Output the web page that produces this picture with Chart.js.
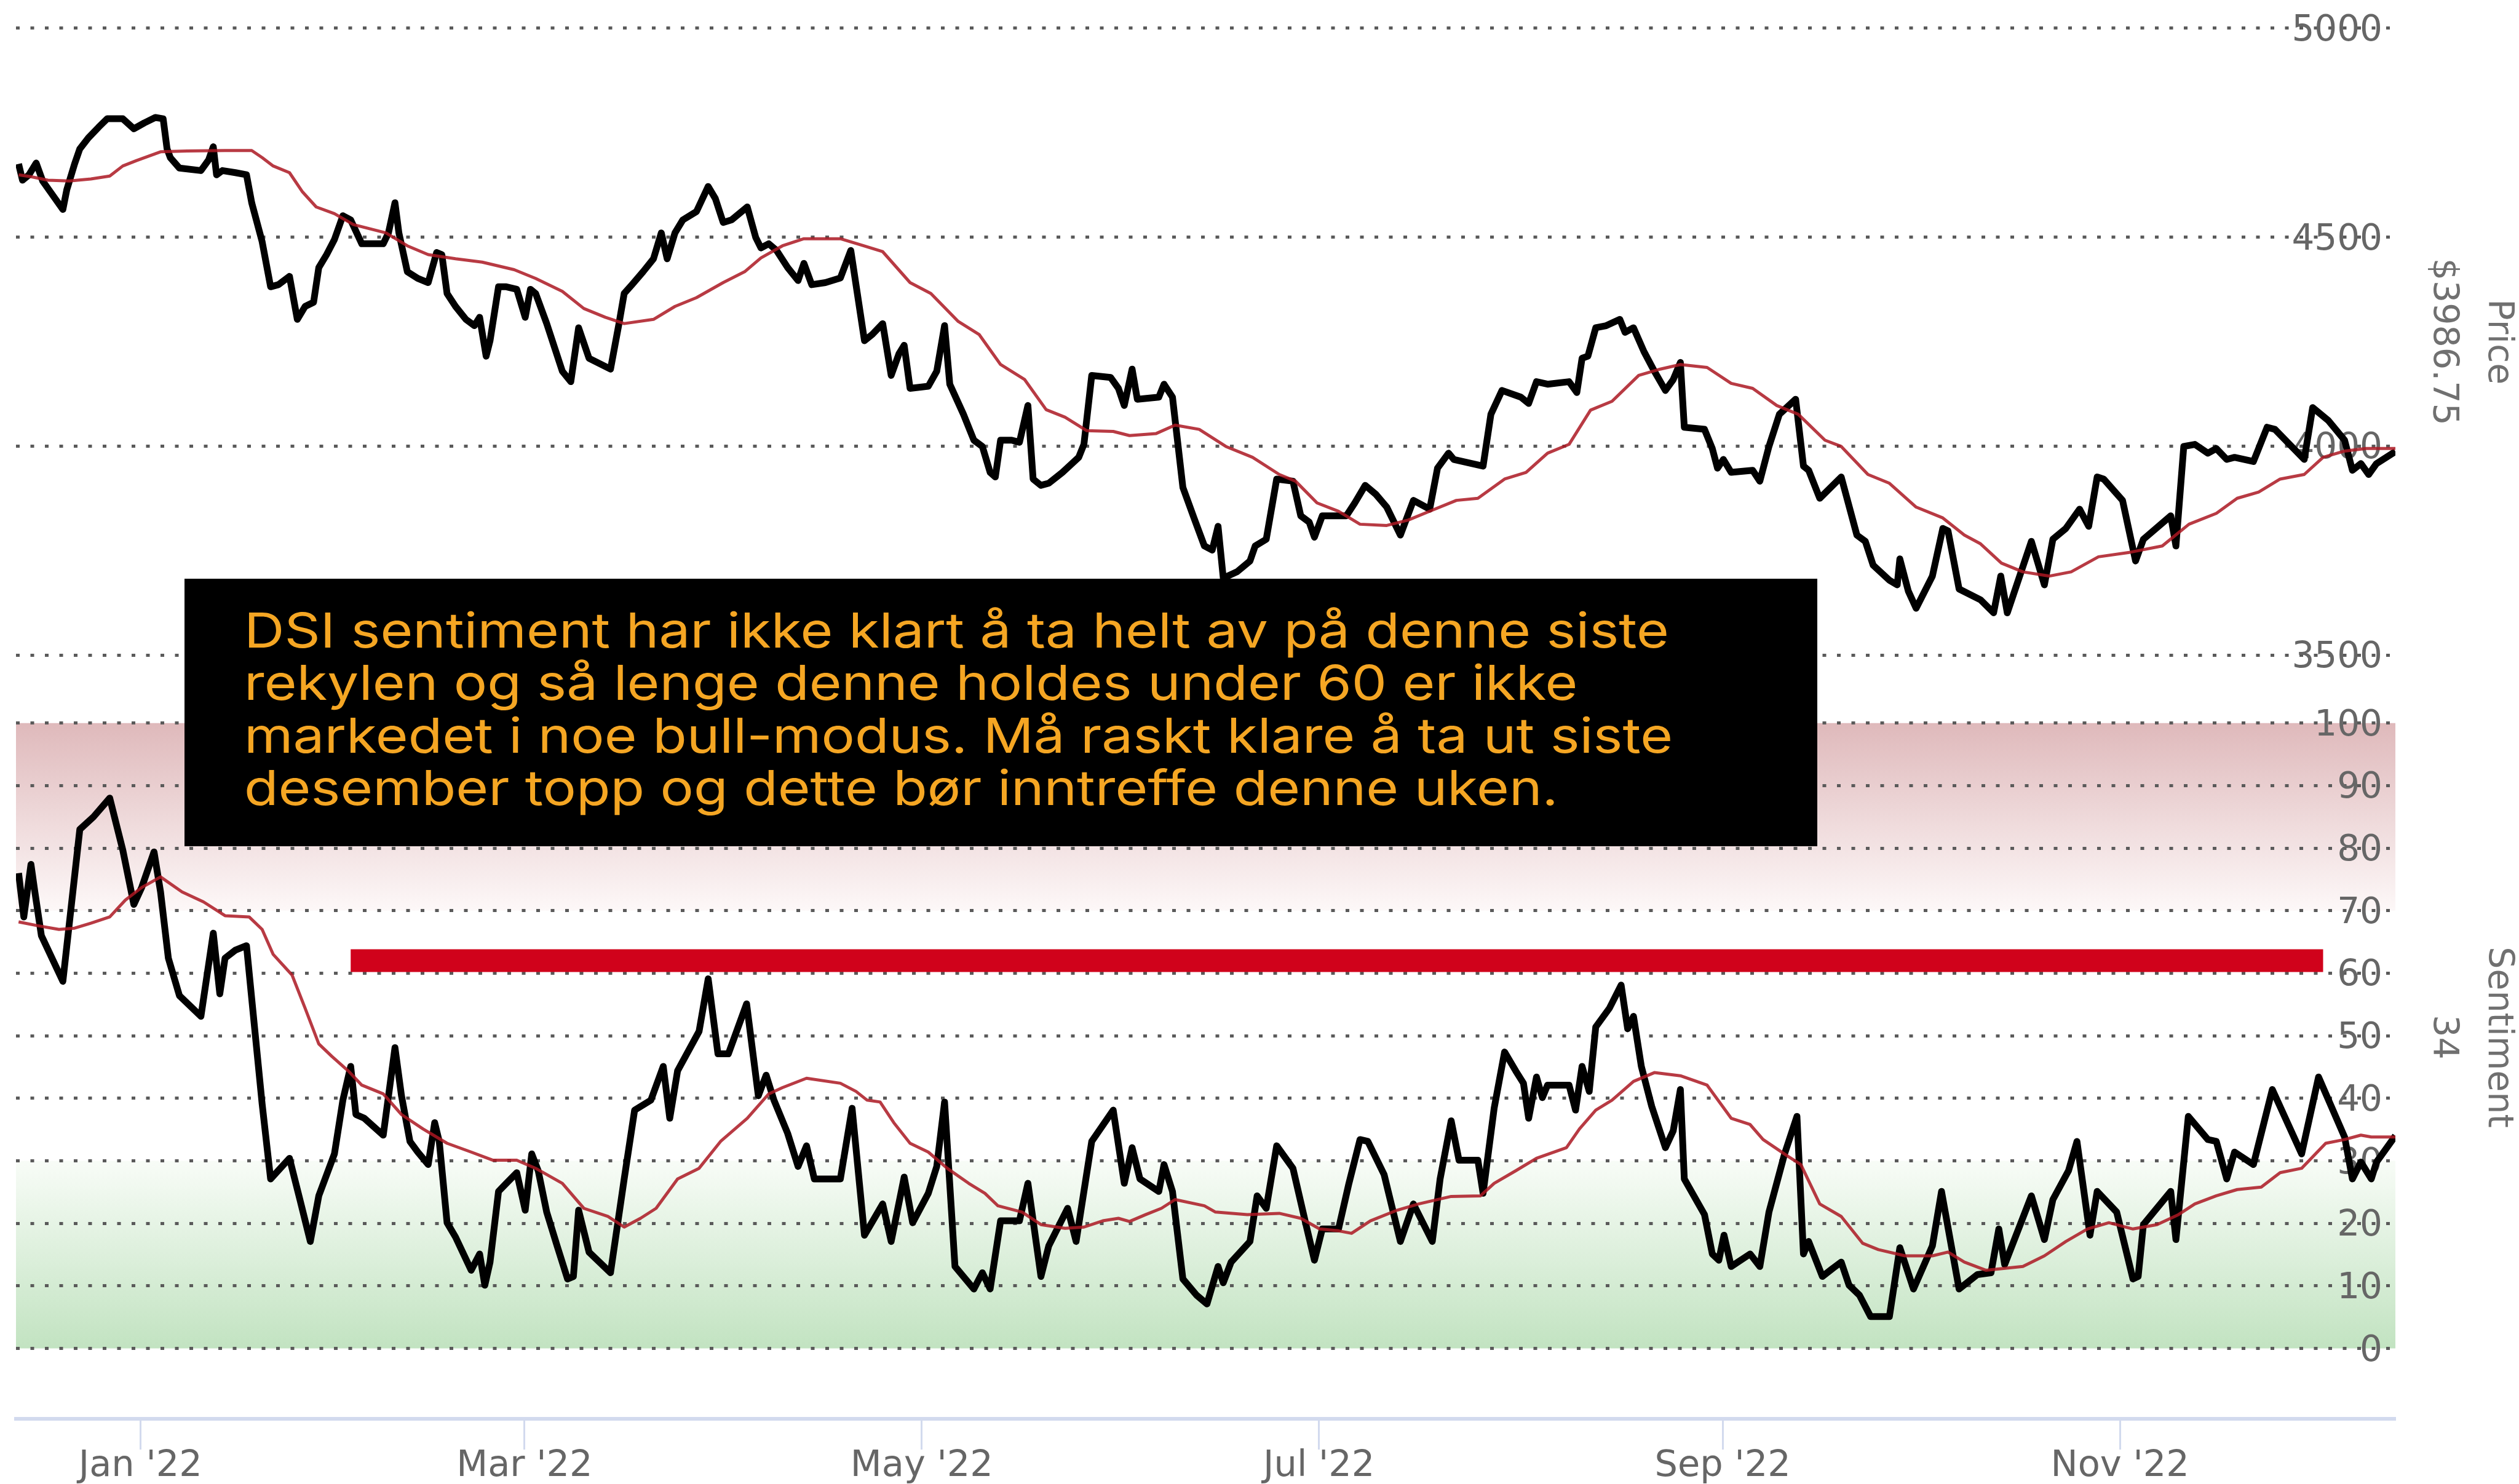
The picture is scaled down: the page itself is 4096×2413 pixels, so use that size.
<!DOCTYPE html>
<html><head><meta charset="utf-8">
<script src="https://cdn.jsdelivr.net/npm/chart.js@4.4.1/dist/chart.umd.min.js"></script>
<style>html,body{margin:0;padding:0;background:#fff;overflow:hidden}#wrap{width:4096px;height:2413px}</style>
</head><body><div id="wrap"><canvas id="c" width="4096" height="2413" style="width:4096px;height:2413px"></canvas></div>
<script>
// x values are days since 1 Jan 2022
const xTickDays = [0, 59, 120, 181, 243, 304];
const xTickLabels = ["Jan '22", "Mar '22", "May '22", "Jul '22", "Sep '22", "Nov '22"];
const priceTicks = [3500, 4000, 4500, 5000];
const sentTicks = [0, 10, 20, 30, 40, 50, 60, 70, 80, 90, 100];
const priceTitle = ['Price', '$3986.75'];
const sentTitle = ['Sentiment', '34'];

const priceDays = [-18.7,-18.1,-17.1,-16.0,-15.0,-11.9,-11.3,-10.1,-9.3,-8.0,-6.4,-5.1,-2.7,-1.0,0.6,2.3,3.5,4.1,4.6,6.0,9.3,10.5,11.2,11.7,12.6,14.6,16.3,17.1,18.7,20.0,21.2,22.9,24.1,25.3,26.6,27.4,28.6,29.8,31.1,32.3,34.0,37.3,38.1,39.1,39.7,41.0,42.6,44.2,45.5,46.3,47.1,48.4,50.0,51.3,52.1,53.1,53.7,55.0,56.2,57.8,59.1,59.9,60.7,62.4,64.8,66.1,67.3,68.9,72.2,73.5,74.3,75.5,77.2,78.8,80.0,80.9,82.1,83.3,85.4,87.2,88.3,89.5,90.8,93.2,94.5,95.3,96.5,97.7,99.4,101.0,101.9,103.1,105.2,107.5,109.1,111.2,112.4,114.0,115.3,116.5,117.3,118.2,121.0,122.3,123.5,124.3,126.4,128.0,129.3,130.5,131.3,132.1,133.8,135.0,136.3,137.1,138.3,139.5,141.6,144.1,144.9,146.1,149.0,150.2,151.1,152.3,153.1,156.4,157.2,158.5,160.1,161.8,163.4,164.6,165.5,166.3,168.4,170.4,171.2,172.9,174.5,177.0,178.2,179.5,180.3,181.5,185.2,186.5,188.1,189.7,191.4,193.5,195.5,198.0,199.2,200.9,201.7,206.2,207.4,209.1,212.0,213.2,214.4,216.1,219.4,220.6,221.4,222.3,223.5,225.1,227.2,228.0,229.3,230.9,232.5,234.2,235.4,236.5,237.1,240.2,241.4,242.2,243.1,244.3,247.6,248.7,250.1,251.7,254.2,255.4,256.2,257.9,261.2,263.6,264.9,266.1,268.6,269.8,270.2,271.5,272.7,275.2,276.8,277.6,279.3,282.6,284.6,285.7,286.7,290.4,292.4,293.7,295.7,297.8,299.2,300.5,301.5,304.4,306.4,307.6,311.8,312.6,313.8,315.5,317.5,318.8,320.4,321.6,324.5,326.6,327.8,332.3,333.6,336.0,338.5,339.7,341.0,342.2,343.4,346.3];
const priceValues = [4675,4636,4649,4677,4634,4566,4613,4675,4711,4737,4763,4783,4783,4759,4773,4786,4783,4711,4690,4665,4659,4685,4716,4649,4659,4654,4649,4582,4489,4381,4386,4406,4303,4334,4344,4427,4458,4494,4551,4541,4484,4484,4510,4582,4510,4417,4401,4391,4463,4458,4365,4334,4303,4288,4308,4215,4252,4381,4381,4375,4308,4375,4365,4293,4179,4154,4283,4210,4184,4293,4365,4386,4417,4448,4510,4448,4510,4541,4561,4621,4592,4535,4541,4572,4499,4474,4484,4468,4427,4396,4437,4386,4391,4402,4468,4252,4267,4293,4169,4221,4241,4138,4143,4179,4288,4148,4076,4014,3999,3937,3926,4014,4014,4009,4097,3921,3906,3911,3937,3973,4004,4169,4164,4138,4097,4184,4112,4117,4148,4117,3901,3828,3761,3751,3808,3684,3699,3725,3761,3777,3921,3916,3833,3818,3782,3833,3833,3864,3906,3885,3854,3787,3870,3849,3947,3983,3968,3952,4076,4133,4117,4102,4154,4148,4154,4128,4210,4215,4283,4288,4303,4272,4283,4226,4179,4133,4159,4200,4045,4040,3994,3947,3968,3937,3942,3916,3999,4076,4112,3952,3942,3875,3926,3787,3772,3715,3679,3668,3730,3653,3612,3689,3803,3797,3658,3632,3601,3689,3601,3772,3668,3777,3803,3849,3808,3926,3921,3870,3725,3777,3833,3761,3999,4004,3983,3994,3968,3973,3963,4045,4040,3968,4092,4061,4014,3942,3958,3932,3958,3987];

const priceMaDays = [-18.7,-16.7,-14.2,-10.9,-7.6,-4.7,-2.7,-0.6,3.1,7.2,13.0,17.1,18.7,20.4,22.9,24.9,27.0,29.8,32.7,37.7,41.0,44.2,48.4,52.5,57.4,60.7,64.8,68.1,71.4,74.3,78.8,82.1,85.4,89.5,92.8,95.3,98.6,101.9,107.5,110.7,114.0,118.2,121.4,125.6,128.8,132.1,135.8,139.1,142.0,145.3,149.4,151.9,156.0,158.9,162.6,166.7,170.8,174.9,177.4,180.7,184.0,187.3,191.4,194.7,198.0,202.1,205.4,209.5,212.8,216.1,219.4,222.7,226.0,230.1,233.4,236.5,240.6,244.3,247.6,251.3,254.6,258.7,261.2,265.3,268.6,272.7,276.8,280.1,282.6,285.8,289.1,293.2,296.5,300.7,305.6,310.5,314.6,318.8,322.0,325.3,328.6,332.3,335.2,338.5,341.8,346.3];
const priceMaValues = [4649,4644,4636,4634,4639,4646,4670,4683,4704,4706,4707,4707,4690,4670,4654,4608,4572,4556,4530,4510,4479,4458,4448,4440,4422,4401,4370,4329,4308,4293,4303,4334,4355,4391,4417,4450,4479,4496,4496,4481,4465,4391,4365,4298,4267,4195,4159,4087,4069,4037,4035,4025,4030,4050,4040,3999,3973,3932,3916,3864,3844,3813,3810,3823,3844,3870,3875,3921,3937,3983,4004,4086,4107,4169,4184,4195,4188,4150,4138,4097,4076,4014,3999,3932,3911,3854,3828,3787,3766,3720,3699,3689,3699,3735,3746,3761,3813,3839,3875,3890,3921,3932,3973,3988,3994,3994];

const sentDays = [-18.7,-17.9,-16.8,-16.2,-15.2,-11.9,-9.3,-7.2,-4.7,-2.7,-1.0,0.2,2.1,3.1,4.3,6.0,9.3,11.2,12.2,13.0,14.6,16.3,17.5,18.7,20.0,22.9,24.5,26.1,27.4,29.8,31.1,32.3,33.1,34.4,37.3,39.1,40.1,41.4,42.6,44.2,45.2,45.9,47.1,48.4,50.8,52.1,52.9,53.7,55.0,56.2,57.8,59.1,60.1,61.1,62.4,64.0,65.6,66.5,67.3,68.9,72.2,74.3,75.9,78.4,80.3,81.3,82.5,85.8,87.2,88.7,90.3,93.1,94.9,96.1,97.3,99.4,101.0,102.3,103.5,107.5,109.3,111.2,114.0,115.3,117.3,118.6,121.0,122.3,123.5,125.1,128.0,129.3,130.5,132.1,135.0,136.3,138.3,139.5,142.4,143.7,146.1,149.4,151.1,152.3,153.5,156.4,157.2,158.5,160.1,162.2,163.8,165.5,166.3,167.5,170.4,171.5,172.9,174.5,177.0,179.0,180.3,181.5,184.0,185.6,187.3,188.5,191.0,193.5,195.5,198.4,199.6,201.3,202.5,205.4,206.2,207.9,209.5,211.2,212.4,213.2,214.4,215.3,216.1,219.4,220.4,221.4,222.5,223.5,225.6,227.4,228.4,229.3,230.5,232.1,234.2,235.4,236.5,237.1,240.2,241.4,242.4,243.2,244.3,247.2,248.7,250.1,252.5,254.4,255.4,256.2,258.3,259.9,261.2,262.4,264.0,265.7,268.6,270.2,272.3,275.2,276.6,279.3,282.1,284.2,285.4,286.3,290.4,292.4,293.7,296.1,297.4,299.4,300.5,303.5,306.0,306.8,307.6,311.8,312.6,314.5,317.5,318.8,320.4,321.6,324.5,327.4,331.9,334.5,338.5,339.7,341.0,342.6,343.4,346.3];
const sentValues = [76.0,69.0,77.4,73.0,66.0,58.7,83.0,85.0,88.0,79.7,71.0,73.7,79.4,73.0,62.4,56.4,53.1,66.4,56.7,62.4,63.7,64.4,51.7,39.1,27.1,30.4,23.8,17.1,24.4,31.1,39.7,45.1,37.4,36.8,34.1,48.1,40.4,33.1,31.4,29.4,36.1,33.1,20.1,17.8,12.5,15.1,10.1,13.8,25.1,26.4,28.1,22.1,31.1,28.4,21.8,16.4,11.1,11.5,22.1,15.4,12.1,27.1,38.1,39.7,45.1,36.8,44.4,50.7,59.1,47.1,47.1,55.1,40.4,43.7,39.7,34.4,29.1,32.4,27.1,27.1,38.4,18.1,23.1,17.1,27.4,20.1,24.8,29.1,39.4,13.1,9.5,12.1,9.5,20.4,20.4,26.4,11.5,16.4,22.4,17.1,33.1,38.1,26.4,32.1,27.1,25.1,29.4,25.1,11.1,8.5,7.1,13.1,10.5,13.8,17.1,24.4,22.4,32.4,28.8,19.8,14.1,19.1,19.1,26.4,33.4,33.1,27.8,17.1,23.1,17.1,27.1,36.4,30.1,30.1,24.8,38.4,47.4,44.4,42.4,36.8,43.4,40.1,42.1,42.1,38.1,45.1,41.1,51.4,54.4,58.1,51.1,53.1,45.1,38.7,32.1,34.8,41.4,27.1,21.4,15.1,14.1,18.1,13.1,15.1,13.1,21.8,31.1,37.1,15.1,17.1,11.5,12.8,13.8,10.1,8.5,5.1,5.1,16.1,9.5,16.4,25.1,9.5,11.8,12.1,19.1,13.4,24.4,17.4,23.8,28.4,33.1,18.1,25.1,21.8,11.1,11.5,19.8,25.1,17.4,37.1,33.4,33.1,27.1,31.4,29.4,41.4,31.1,43.4,33.8,27.1,29.8,27.1,29.8,34.0];

const sentMaDays = [-18.7,-15.8,-12.5,-10.1,-7.6,-4.7,-2.3,0.2,3.1,6.4,9.7,13.0,16.7,18.7,20.4,23.3,25.3,27.4,29.4,31.9,34.0,37.3,40.1,43.4,47.1,50.8,54.1,57.8,60.7,64.8,68.1,71.8,74.3,76.8,79.2,82.5,85.8,89.1,93.2,96.5,98.6,102.3,107.5,109.9,111.6,113.6,115.7,118.2,121.0,123.9,127.2,129.7,131.7,135.4,138.3,142.0,144.9,147.8,150.2,151.9,154.4,156.8,158.9,163.4,165.1,170.0,174.9,178.2,181.1,184.0,186.0,188.9,193.0,196.3,201.3,205.8,207.9,211.2,214.4,219.0,221.0,223.5,226.0,229.3,232.5,236.5,240.6,242.7,244.3,247.2,249.2,252.9,255.0,257.9,261.2,264.5,266.9,271.0,275.2,277.6,280.1,283.4,289.1,292.4,295.7,299.0,302.3,306.0,309.7,313.0,315.5,318.8,322.0,325.7,328.6,331.9,335.6,338.5,341.0,342.6,346.3];
const sentMaValues = [68.2,67.6,67.0,67.2,68.0,69.0,71.7,73.7,75.4,73.0,71.4,69.2,69.0,67.0,63.0,59.7,54.4,48.7,46.7,44.4,42.1,40.7,37.4,35.1,32.8,31.4,30.1,30.1,28.8,26.4,22.4,21.1,19.4,20.8,22.4,27.1,28.8,33.1,36.8,40.7,41.7,43.2,42.4,41.1,39.7,39.4,36.1,32.8,31.4,28.8,26.4,24.8,22.8,21.8,19.8,19.2,19.4,20.4,20.8,20.3,21.4,22.4,23.8,22.8,21.8,21.4,21.6,20.8,19.1,18.8,18.4,20.4,22.1,23.1,24.3,24.4,26.4,28.4,30.4,32.1,35.1,38.1,39.7,42.7,44.1,43.6,42.1,39.1,36.8,35.8,33.4,30.8,29.4,23.1,21.1,16.8,15.8,14.8,14.8,15.4,13.8,12.5,13.1,14.8,17.1,19.1,20.1,19.1,19.8,21.4,23.1,24.4,25.4,25.8,28.1,28.8,32.8,33.4,34.1,33.8,33.8];

const levelDays = [32.3, 335.2];     // red horizontal marker
const levelValue = 62;
const overboughtBand = [100, 70];
const oversoldBand = [30, 0];

const noteLines = [
  'DSI sentiment har ikke klart å ta helt av på denne siste',
  'rekylen og så lenge denne holdes under 60 er ikke',
  'markedet i noe bull-modus. Må raskt klare å ta ut siste',
  'desember topp og dette bør inntreffe denne uken.'
];

const XMIN = -19.1, XMAX = 346.3;
const pts = (xs, ys) => xs.map((x, i) => ({x: x, y: ys[i]}));
const flat = (v) => [{x: XMIN, y: v}, {x: XMAX, y: v}];

function bandGradient(c0, c1, v0, v1) {
  return (ctx) => {
    const chart = ctx.chart;
    const s = chart.scales && chart.scales.ySent;
    if (!chart.chartArea || !s) return 'rgba(0,0,0,0)';
    const g = chart.ctx.createLinearGradient(0, s.getPixelForValue(v0), 0, s.getPixelForValue(v1));
    g.addColorStop(0, c0);
    g.addColorStop(1, c1);
    return g;
  };
}

const notePlugin = {
  id: 'note',
  afterDraw(chart) {
    const c = chart.ctx;
    c.save();
    c.fillStyle = '#000';
    c.fillRect(300, 941, 2655, 435);
    c.font = '400 79px Inter, "Open Sans", sans-serif';
    c.fillStyle = '#F5A623';
    c.textBaseline = 'alphabetic';
    c.textAlign = 'left';
    const sx = 2317 / c.measureText(noteLines[0]).width;
    noteLines.forEach((t, i) => {
      c.save();
      c.translate(397, 1053 + i * 85.3);
      c.scale(sx, 1);
      c.fillText(t, 0, 0);
      c.restore();
    });
    c.restore();
  }
};

Chart.defaults.font.family = 'DejaVu Sans';
const TICKPAD = -21;
const gridCfg = {color: '#5a5a5a', lineWidth: 5, drawTicks: false, tickLength: 0};
const borderCfg = {display: false, dash: [6, 17.5]};
const tickFont = {size: 58, family: 'DejaVu Sans', lineHeight: 1.2};
const titleFont = {size: 57, family: 'DejaVu Sans', lineHeight: 90 / 57};

new Chart(document.getElementById('c'), {
  type: 'line',
  data: {
    datasets: [
      {data: flat(overboughtBand[0]), yAxisID: 'ySent', fill: '+1', borderWidth: 0, borderColor: 'rgba(0,0,0,0)', backgroundColor: bandGradient('#dfb9bb', '#fdf8f8', 100, 70), order: 10},
      {data: flat(overboughtBand[1]), yAxisID: 'ySent', fill: false, borderWidth: 0, borderColor: 'rgba(0,0,0,0)', order: 10},
      {data: flat(oversoldBand[0]), yAxisID: 'ySent', fill: '+1', borderWidth: 0, borderColor: 'rgba(0,0,0,0)', backgroundColor: bandGradient('#f8fcf7', '#c2e3c1', 30, 0), order: 10},
      {data: flat(oversoldBand[1]), yAxisID: 'ySent', fill: false, borderWidth: 0, borderColor: 'rgba(0,0,0,0)', order: 10},
      {data: pts(sentDays, sentValues), yAxisID: 'ySent', borderColor: '#000', borderWidth: 11, order: 4},
      {data: pts(sentMaDays, sentMaValues), yAxisID: 'ySent', borderColor: 'rgba(172,24,34,0.85)', borderWidth: 5, order: 3},
      {data: pts(priceDays, priceValues), yAxisID: 'yPrice', borderColor: '#000', borderWidth: 11, order: 4},
      {data: pts(priceMaDays, priceMaValues), yAxisID: 'yPrice', borderColor: 'rgba(172,24,34,0.85)', borderWidth: 5, order: 3},
      {data: pts(levelDays, [levelValue, levelValue]), yAxisID: 'ySent', borderColor: '#d0021b', borderWidth: 37, borderCapStyle: 'butt', order: 1}
    ]
  },
  options: {
    responsive: false,
    devicePixelRatio: 1,
    animation: false,
    events: [],
    layout: {padding: {top: 45.6, left: 26, right: 0, bottom: 0}},
    elements: {point: {radius: 0}, line: {tension: 0, fill: false, borderJoinStyle: 'round'}},
    plugins: {legend: {display: false}, tooltip: {enabled: false}, filler: {drawTime: 'beforeDraw'}},
    scales: {
      x: {
        type: 'linear', min: XMIN, max: XMAX, bounds: 'data',
        afterBuildTicks: (s) => { s.ticks = xTickDays.map((v) => ({value: v})); },
        grid: {drawOnChartArea: false, drawTicks: true, tickLength: 50, color: '#d2daee', tickColor: '#d2daee', tickWidth: 3},
        border: {display: true, color: '#d2daee', width: 6},
        ticks: {padding: -1.5, color: '#666', autoSkip: false, maxRotation: 0, font: {size: 59, family: 'DejaVu Sans', lineHeight: 1},
          callback: (v) => xTickLabels[xTickDays.indexOf(v)]}
      },
      yPrice: {
        type: 'linear', position: 'right', stack: 'right', stackWeight: 1020.4, weight: 0,
        min: 3498.7, max: 5000, bounds: 'data',
        afterBuildTicks: (s) => { s.ticks = priceTicks.map((v) => ({value: v})); },
        grid: gridCfg, border: borderCfg,
        ticks: {mirror: true, padding: TICKPAD, labelOffset: 5, autoSkip: false, color: '#666', font: tickFont, callback: (v) => String(v)},
        title: {display: true, text: priceTitle, color: '#707070', font: titleFont, padding: {top: -11, bottom: 32 - 2 * TICKPAD}}
      },
      ySent: {
        type: 'linear', position: 'right', stack: 'right', stackWeight: 1241, weight: 1,
        min: -11.26, max: 110.79, bounds: 'data',
        afterBuildTicks: (s) => { s.ticks = sentTicks.map((v) => ({value: v})); },
        grid: gridCfg, border: borderCfg,
        ticks: {mirror: true, padding: TICKPAD, labelOffset: 5, autoSkip: false, color: '#666', font: tickFont, callback: (v) => String(v)},
        title: {display: true, text: sentTitle, color: '#707070', font: titleFont, padding: {top: -11, bottom: 32 - 2 * TICKPAD}}
      }
    }
  },
  plugins: [notePlugin]
});
</script>
</body></html>
